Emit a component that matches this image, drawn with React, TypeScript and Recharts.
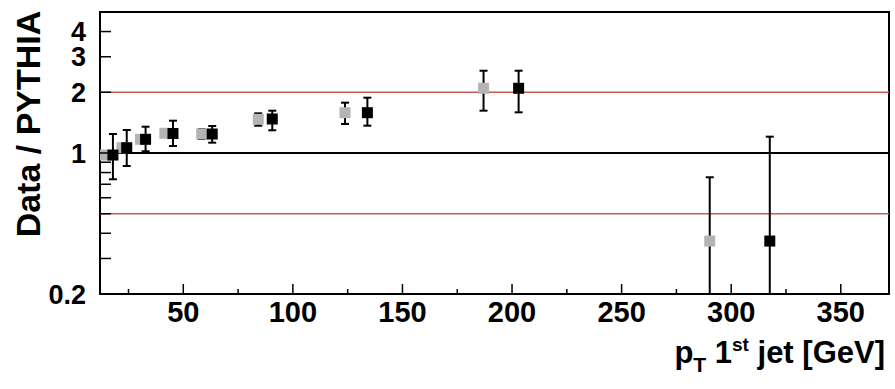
import { ScatterChart, Scatter, XAxis, YAxis, ErrorBar, ReferenceLine, ReferenceArea } from 'recharts';

// black markers
const blackPt = [17.9, 24.2, 32.8, 45.3, 63.2, 90.6, 134.0, 203.0, 317.6];
const blackRatio = [0.977, 1.062, 1.169, 1.249, 1.242, 1.474, 1.584, 2.093, 0.366];
const blackHigh = [1.242, 1.3, 1.35, 1.446, 1.361, 1.621, 1.88, 2.558, 1.205];
const blackLow = [0.741, 0.862, 1.02, 1.083, 1.125, 1.296, 1.366, 1.591, 0.2];

// grey markers
const greyPt = [14.2, 22.0, 30.5, 41.6, 58.4, 84.2, 123.8, 187.0, 290.2];
const greyRatio = [0.977, 1.062, 1.169, 1.252, 1.242, 1.469, 1.584, 2.093, 0.366];
const greyHigh = [1.02, 1.1, 1.2, 1.28, 1.311, 1.573, 1.776, 2.558, 0.758];
const greyLow = [0.94, 1.03, 1.14, 1.22, 1.173, 1.366, 1.393, 1.621, 0.2];

const xTicks = [25, 50, 75, 100, 125, 150, 175, 200, 225, 250, 275, 300, 325, 350];
const xLabels = [50, 100, 150, 200, 250, 300, 350];
const yTicks = [0.2, 0.3, 0.4, 0.5, 0.6, 0.7, 0.8, 0.9, 1, 2, 3, 4];
const yLabels = [0.2, 1, 2, 3, 4];

const FONT = '"Liberation Sans", Arial, Helvetica, sans-serif';

const build = (pt: number[], r: number[], hi: number[], lo: number[]) =>
  pt.map((x, i) => ({ x, y: r[i], err: [r[i] - lo[i], hi[i] - r[i]] }));

const black = build(blackPt, blackRatio, blackHigh, blackLow);
const grey = build(greyPt, greyRatio, greyHigh, greyLow);

const square = (color: string) => (props: any) => (
  <rect x={props.cx - 5.5} y={props.cy - 5.5} width={11} height={11} fill={color} />
);

const XTick = (props: any) => {
  const { x, y, payload } = props;
  const major = xLabels.includes(payload.value);
  return (
    <g>
      <line x1={x} x2={x} y1={y} y2={y - (major ? 10 : 5)} stroke="#000" strokeWidth={1.5} />
      {major && (
        <text x={x} y={y + 28} textAnchor="middle" fontFamily={FONT} fontWeight="bold" fontSize={29} fill="#000">
          {payload.value}
        </text>
      )}
    </g>
  );
};

const YTick = (props: any) => {
  const { x, y, payload } = props;
  const label = yLabels.includes(payload.value);
  return (
    <g>
      <line x1={x} x2={x + 11} y1={y} y2={y} stroke="#000" strokeWidth={1.5} />
      {label && (
        <text x={x - 14} y={y} dy="0.36em" textAnchor="end" fontFamily={FONT} fontWeight="bold" fontSize={27} fill="#000">
          {payload.value}
        </text>
      )}
    </g>
  );
};

export default function App() {
  return (
    <div style={{ position: 'absolute', left: 0, top: 0, background: '#fff' }}>
      <ScatterChart width={895} height={389} margin={{ top: 12, right: 6, left: 0, bottom: 0 }}>
        <XAxis
          type="number"
          dataKey="x"
          domain={[12, 372]}
          ticks={xTicks}
          interval={0}
          allowDataOverflow
          height={95}
          tickSize={0}
          tickMargin={0}
          axisLine={false}
          tick={(p: any) => <XTick {...p} />}
          label={{
            content: () => (
              <text x={885} y={363} textAnchor="end" fontFamily={FONT} fontWeight="bold" fontSize={31} fill="#000">
                <tspan>p</tspan>
                <tspan fontSize={21} dy={9}>T</tspan>
                <tspan dy={-9}> 1</tspan>
                <tspan fontSize={19} dy={-12}>st</tspan>
                <tspan dy={12}> jet [GeV]</tspan>
              </text>
            ),
          }}
        />
        <YAxis
          type="number"
          dataKey="y"
          scale="log"
          domain={[0.2, 5]}
          ticks={yTicks}
          interval={0}
          allowDataOverflow
          width={100}
          tickSize={0}
          tickMargin={0}
          axisLine={false}
          tick={(p: any) => <YTick {...p} />}
          label={{
            content: () => (
              <text
                x={40}
                y={124}
                transform="rotate(-90 40 124)"
                textAnchor="middle"
                fontFamily={FONT}
                fontWeight="bold"
                fontSize={34}
                fill="#000"
              >
                Data / PYTHIA
              </text>
            ),
          }}
        />
        <ReferenceLine y={2} stroke="#c45a56" strokeWidth={1.5} />
        <ReferenceLine y={0.5} stroke="#c45a56" strokeWidth={1.5} />
        <ReferenceLine y={1} stroke="#000" strokeWidth={2} />
        <Scatter data={grey} isAnimationActive={false} shape={square('#b4b4b4')}>
          <ErrorBar dataKey="err" direction="y" width={4} stroke="#000" strokeWidth={2} isAnimationActive={false} />
        </Scatter>
        <Scatter data={black} isAnimationActive={false} shape={square('#000')}>
          <ErrorBar dataKey="err" direction="y" width={4} stroke="#000" strokeWidth={2} isAnimationActive={false} />
        </Scatter>
        <ReferenceArea x1={12} x2={372} y1={0.2} y2={5} fill="none" stroke="#000" strokeWidth={2} ifOverflow="visible" />
      </ScatterChart>
    </div>
  );
}
